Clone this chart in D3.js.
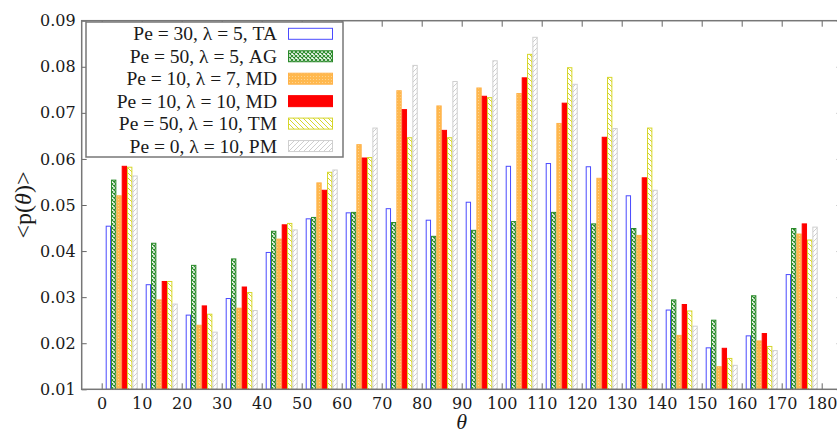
<!DOCTYPE html>
<html>
<head>
<meta charset="utf-8">
<title>p(theta) histogram</title>
<script src="https://cdn.jsdelivr.net/npm/d3@7"></script>
<style>
  body { margin: 0; background: #fff; }
  svg { display: block; }
  .tick text { font-family: "DejaVu Serif", serif; font-size: 16px; fill: #1a1a1a; }
  .tick line { stroke: #666; stroke-width: 1; }
  .lab { font-family: "Liberation Serif", serif; fill: #1a1a1a; }
</style>
</head>
<body>
<div id="chart"></div>
<script>
// bin centres (degrees)
var bins = [5, 15, 25, 35, 45, 55, 65, 75, 85, 95, 105, 115, 125, 135, 145, 155, 165, 175];

var seriesNames = ["Pe = 30, λ = 5, TA", "Pe = 50, λ = 5, AG", "Pe = 10, λ = 7, MD",
                   "Pe = 10, λ = 10, MD", "Pe = 50, λ = 10, TM", "Pe = 0, λ = 10, PM"];

var ta   = [0.0454, 0.0327, 0.0261, 0.0297, 0.0397, 0.0470, 0.0483, 0.0492, 0.0467, 0.0506, 0.0584, 0.0590, 0.0583, 0.0520, 0.0272, 0.0190, 0.0216, 0.0349];
var ag   = [0.0554, 0.0417, 0.0369, 0.0383, 0.0443, 0.0473, 0.0484, 0.0462, 0.0432, 0.0445, 0.0464, 0.0484, 0.0459, 0.0449, 0.0294, 0.0250, 0.0303, 0.0449];
var md7  = [0.0520, 0.0294, 0.0239, 0.0276, 0.0426, 0.0548, 0.0631, 0.0748, 0.0715, 0.0754, 0.0742, 0.0677, 0.0558, 0.0434, 0.0217, 0.0149, 0.0205, 0.0437];
var md10 = [0.0584, 0.0334, 0.0281, 0.0322, 0.0457, 0.0532, 0.0602, 0.0707, 0.0662, 0.0736, 0.0776, 0.0721, 0.0647, 0.0559, 0.0284, 0.0189, 0.0221, 0.0459];
var tm   = [0.0582, 0.0334, 0.0263, 0.0310, 0.0460, 0.0571, 0.0603, 0.0646, 0.0646, 0.0733, 0.0827, 0.0798, 0.0777, 0.0667, 0.0270, 0.0167, 0.0193, 0.0424];
var pm   = [0.0563, 0.0285, 0.0224, 0.0271, 0.0446, 0.0576, 0.0667, 0.0803, 0.0768, 0.0813, 0.0864, 0.0762, 0.0666, 0.0532, 0.0237, 0.0152, 0.0184, 0.0452];

var xTicks = d3.range(0, 181, 10);
var yTicks = [0.01, 0.02, 0.03, 0.04, 0.05, 0.06, 0.07, 0.08, 0.09];

var allSeries = [ta, ag, md7, md10, tm, pm];

// styling for each series: stroke + fill (pattern ids)
var styles = [
  {stroke: "#4a4aff", fill: "#fff"},
  {stroke: "#2a8a2a", fill: "url(#cross)"},
  {stroke: "#ffb24a", fill: "url(#dots)"},
  {stroke: "#ff0000", fill: "#ff0000"},
  {stroke: "#d6d62a", fill: "url(#hatchY)"},
  {stroke: "#cfcfcf", fill: "url(#hatchG)"}
];

var W = 837, H = 433;
var x = d3.scaleLinear().domain([-5, 185]).range([81.7, 841.7]);
var y = d3.scaleLinear().domain([0.01, 0.09]).range([389.3, 20.7]);

var svg = d3.select("#chart").append("svg").attr("width", W).attr("height", H);

// patterns
var defs = svg.append("defs");
var p = defs.append("pattern").attr("id", "cross").attr("patternUnits", "userSpaceOnUse")
  .attr("width", 4).attr("height", 4);
p.append("rect").attr("width", 4).attr("height", 4).attr("fill", "#fff");
p.append("path").attr("d", "M0,0L4,4M4,0L0,4").attr("stroke", "#2a8a2a").attr("stroke-width", 1.1);

p = defs.append("pattern").attr("id", "dots").attr("patternUnits", "userSpaceOnUse")
  .attr("width", 3).attr("height", 3);
p.append("rect").attr("width", 3).attr("height", 3).attr("fill", "#ffb84d");
p.append("circle").attr("cx", 1.5).attr("cy", 1.5).attr("r", 0.6).attr("fill", "#ffd89a");

p = defs.append("pattern").attr("id", "hatchY").attr("patternUnits", "userSpaceOnUse")
  .attr("width", 5).attr("height", 5);
p.append("rect").attr("width", 5).attr("height", 5).attr("fill", "#fff");
p.append("path").attr("d", "M0,0L5,5M-2.5,2.5L2.5,7.5M2.5,-2.5L7.5,2.5")
  .attr("stroke", "#d6d62a").attr("stroke-width", 1);

p = defs.append("pattern").attr("id", "hatchG").attr("patternUnits", "userSpaceOnUse")
  .attr("width", 5).attr("height", 5);
p.append("rect").attr("width", 5).attr("height", 5).attr("fill", "#fff");
p.append("path").attr("d", "M0,5L5,0M-2.5,2.5L2.5,-2.5M2.5,7.5L7.5,2.5")
  .attr("stroke", "#cfcfcf").attr("stroke-width", 1);

// bars
var groupW = 8, barW = groupW / allSeries.length;
allSeries.forEach(function(vals, i) {
  svg.append("g").selectAll("rect")
    .data(vals)
    .enter().append("rect")
    .attr("x", function(d, j) { return x(bins[j] - groupW / 2 + i * barW) + 0.5; })
    .attr("width", x(barW) - x(0) - 1)
    .attr("y", function(d) { return y(d); })
    .attr("height", function(d) { return y(0.01) - y(d); })
    .attr("fill", styles[i].fill)
    .attr("stroke", styles[i].stroke)
    .attr("stroke-width", 1);
});

// axes (ticks inward)
var gx = svg.append("g").attr("transform", "translate(0," + y(0.01) + ")")
  .call(d3.axisBottom(x).tickValues(xTicks).tickSize(-6).tickSizeOuter(0).tickPadding(8).tickFormat(d3.format("d")));
var gxt = svg.append("g").attr("transform", "translate(0," + y(0.09) + ")")
  .call(d3.axisTop(x).tickValues(xTicks).tickSize(-6).tickSizeOuter(0).tickFormat(""));
var gy = svg.append("g").attr("transform", "translate(" + x(-5) + ",0)")
  .call(d3.axisLeft(y).tickValues(yTicks).tickSize(-5).tickSizeOuter(0).tickPadding(6).tickFormat(d3.format(".2f")));
var gyr = svg.append("g").attr("transform", "translate(" + x(185) + ",0)")
  .call(d3.axisRight(y).tickValues(yTicks).tickSize(-5).tickSizeOuter(0).tickFormat(""));
svg.selectAll(".domain").remove();

// frame
svg.append("rect")
  .attr("x", x(-5)).attr("y", y(0.09))
  .attr("width", x(185) - x(-5)).attr("height", y(0.01) - y(0.09))
  .attr("fill", "none").attr("stroke", "#777").attr("stroke-width", 1.5);

// legend
var leg = svg.append("g");
leg.append("rect").attr("x", 86).attr("y", 22).attr("width", 257).attr("height", 135)
  .attr("fill", "#fff").attr("stroke", "#777").attr("stroke-width", 1.5);
seriesNames.forEach(function(name, i) {
  var cy = 33.8 + i * 22.45;
  leg.append("text").attr("class", "lab")
    .attr("x", 277).attr("y", cy + 6.5)
    .attr("text-anchor", "end").style("font-size", "19.5px")
    .text(name);
  leg.append("rect").attr("x", 288.5).attr("y", cy - 5.5).attr("width", 44).attr("height", 11)
    .attr("fill", styles[i].fill).attr("stroke", styles[i].stroke).attr("stroke-width", 1);
});

// axis titles
var yl = svg.append("text").attr("class", "lab")
  .attr("transform", "translate(31,205) rotate(-90)")
  .attr("text-anchor", "middle").style("font-size", "24px");
yl.append("tspan").text("<p(");
yl.append("tspan").style("font-style", "italic").text("θ");
yl.append("tspan").text(")>");

svg.append("text").attr("class", "lab")
  .attr("x", x(90)).attr("y", 429)
  .attr("text-anchor", "middle").style("font-size", "22px").style("font-style", "italic")
  .text("θ");
</script>
</body>
</html>
